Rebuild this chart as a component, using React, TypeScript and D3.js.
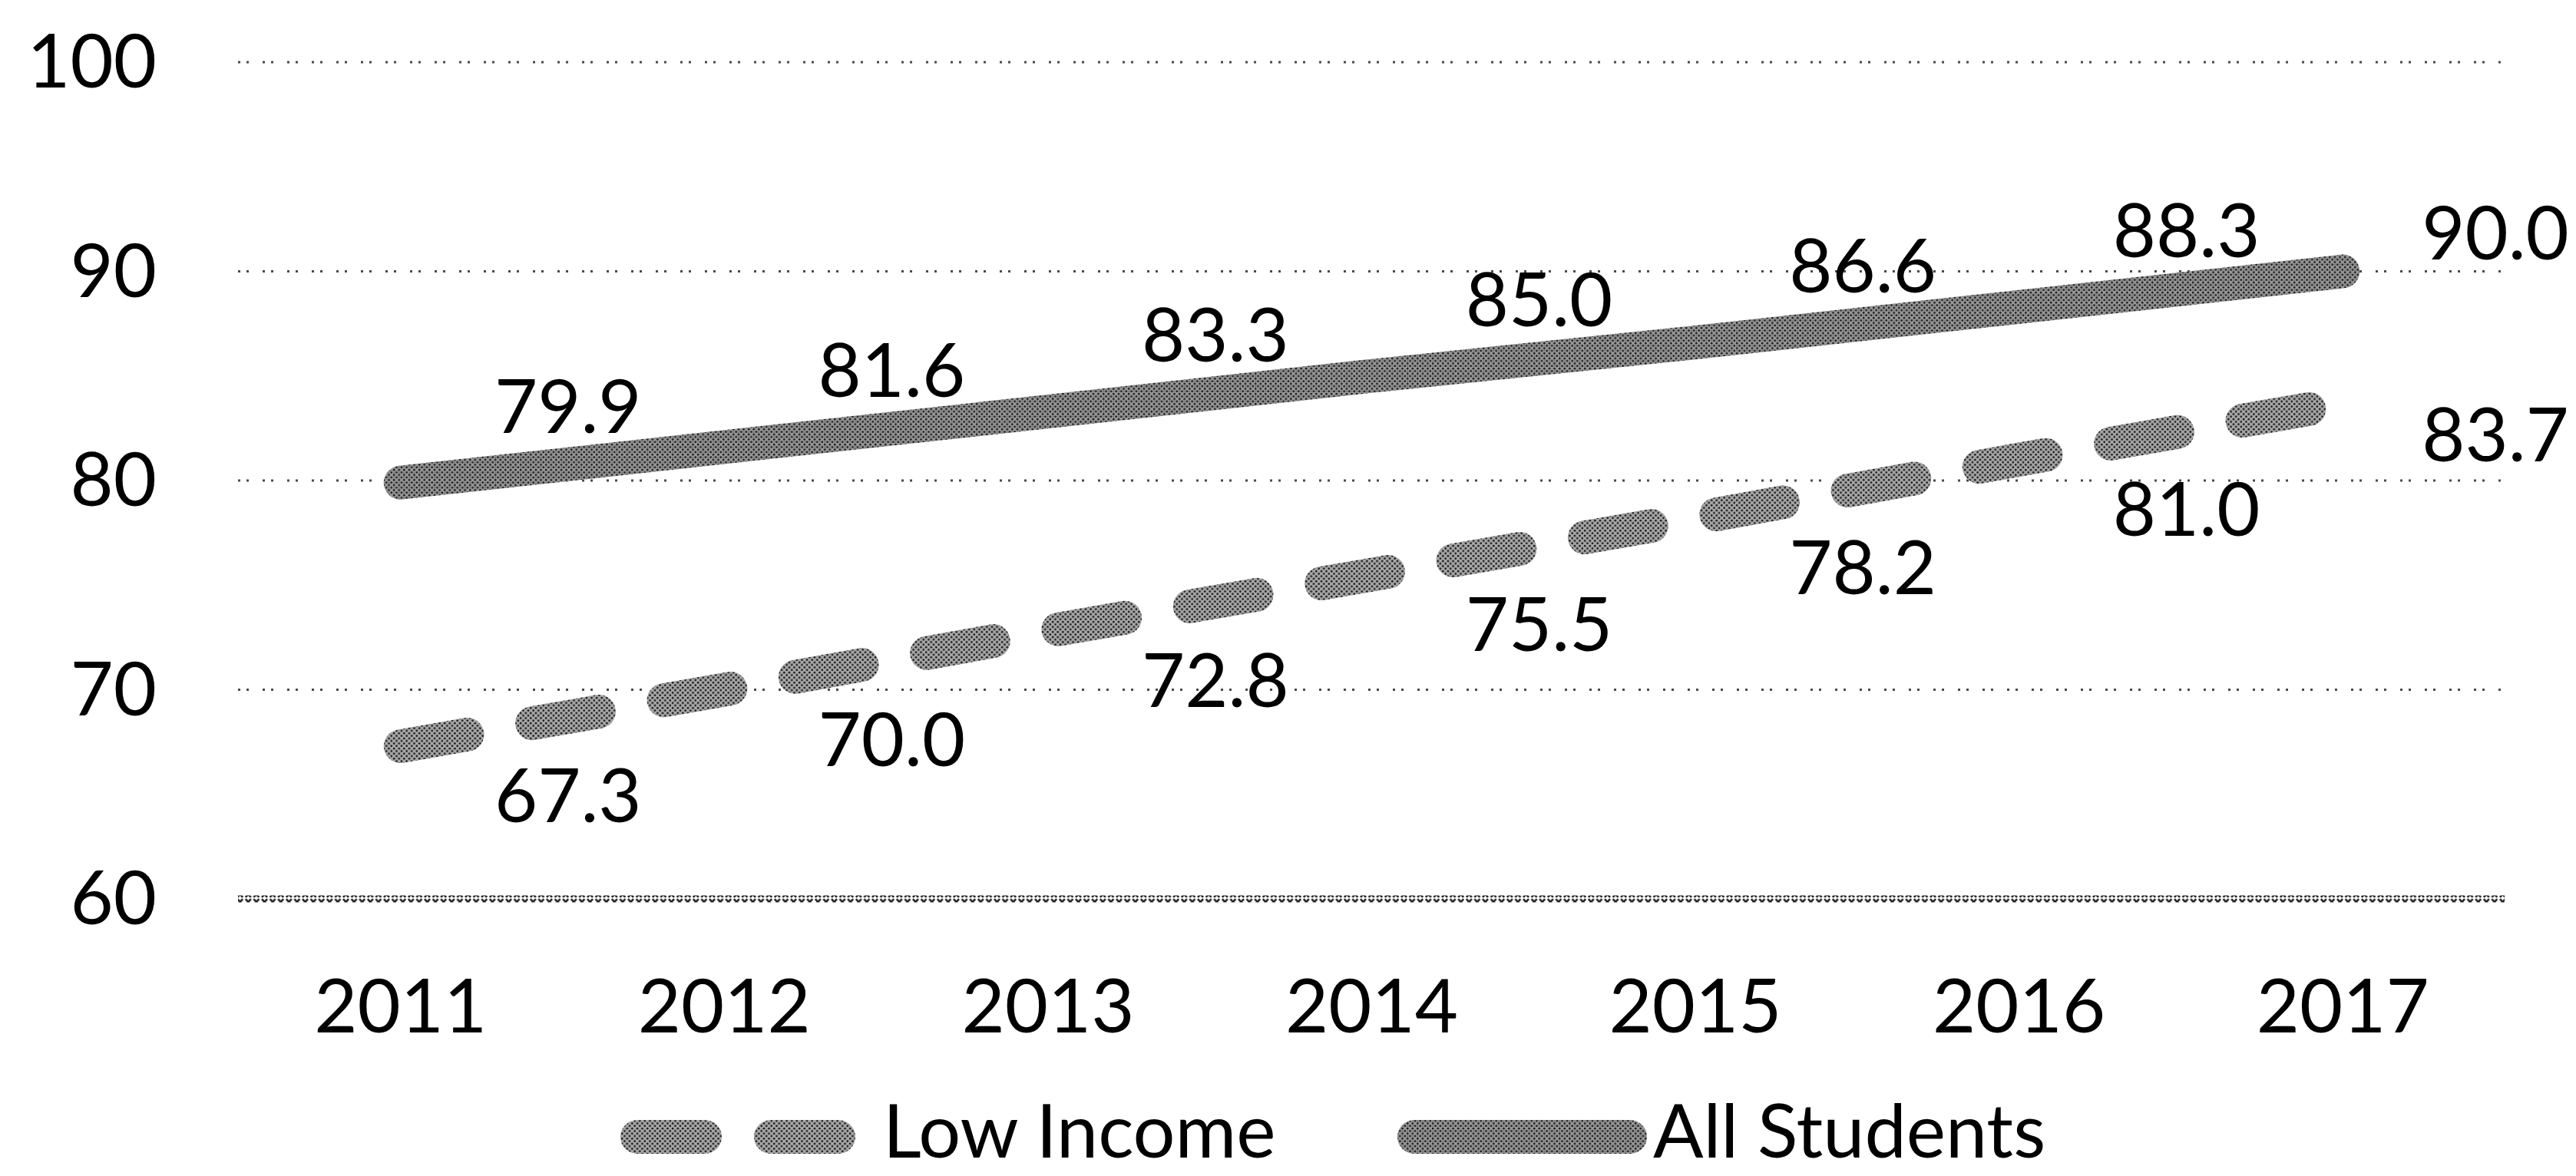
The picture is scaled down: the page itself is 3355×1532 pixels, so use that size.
import React from "react";
import * as d3 from "d3";

const years = ["2011", "2012", "2013", "2014", "2015", "2016", "2017"];
const allStudents = [79.9, 81.6, 83.3, 85.0, 86.6, 88.3, 90.0];
const lowIncome = [67.3, 70.0, 72.8, 75.5, 78.2, 81.0, 83.7];
const yTicks = [60, 70, 80, 90, 100];
const seriesNames = ["Low Income", "All Students"];

const W = 3355;
const H = 1532;
const FONT = "Lato, 'Open Sans', sans-serif";
const FS = 97;

export default function App() {
  const x = d3.scaleBand<string>().domain(years).range([311, 3262]);
  const y = d3.scaleLinear().domain([60, 100]).range([1171, 81]);
  const cx = (d: string) => (x(d) as number) + x.bandwidth() / 2;

  const line = d3
    .line<number>()
    .x((_, i) => cx(years[i]))
    .y((v) => y(v));

  const legendY = 1481;
  const legendBase = 1508;
  const last = years.length - 1;
  const labelX = (i: number) => Math.min(cx(years[i]) + 218, 3250);

  return (
    <svg
      width={W}
      height={H}
      style={{ position: "absolute", left: 0, top: 0, background: "#fff" }}
      fontFamily={FONT}
    >
      <defs>
        <pattern id="tex" width="6.6" height="6.6" patternUnits="userSpaceOnUse">
          <rect width="6.6" height="6.6" fill="#9a9a9a" />
          <circle cx="1.65" cy="1.65" r="1.4" fill="#1c1c1c" />
          <circle cx="4.95" cy="4.95" r="1.4" fill="#1c1c1c" />
          <circle cx="4.95" cy="1.65" r="0.8" fill="#555" />
        </pattern>
        <pattern id="tex2" width="6.6" height="6.6" patternUnits="userSpaceOnUse">
          <rect width="6.6" height="6.6" fill="#a8a8a8" />
          <circle cx="1.65" cy="1.65" r="1.4" fill="#1c1c1c" />
          <circle cx="4.95" cy="4.95" r="1.4" fill="#1c1c1c" />
        </pattern>
        <pattern id="xpat" width="10.6" height="10" patternUnits="userSpaceOnUse">
          <rect width="10.6" height="10" fill="#fff" />
          <path d="M1.8,1.2 L8.8,8.8 M8.8,1.2 L1.8,8.8" stroke="#222" strokeWidth="2.6" />
        </pattern>
      </defs>

      {/* gridlines */}
      {yTicks
        .filter((t) => t !== 60)
        .map((t) => (
          <line
            key={t}
            x1={310}
            x2={3260}
            y1={y(t)}
            y2={y(t)}
            stroke="#4a4a4a"
            strokeWidth={3}
            strokeDasharray="3 8 3 18"
          />
        ))}
      {/* bottom axis */}
      <rect x={310} y={y(60) - 4.5} width={2952} height={9} fill="url(#xpat)" />

      {/* y tick labels */}
      {yTicks.map((t) => (
        <text key={t} x={204} y={y(t) + 33} textAnchor="end" fontSize={FS} fill="#000">
          {t}
        </text>
      ))}

      {/* x tick labels */}
      {years.map((yr) => (
        <text key={yr} x={cx(yr)} y={1345} textAnchor="middle" fontSize={FS} fill="#000">
          {yr}
        </text>
      ))}

      {/* series lines */}
      <path
        d={line(allStudents) as string}
        fill="none"
        stroke="url(#tex)"
        strokeWidth={44}
        strokeLinecap="round"
        strokeLinejoin="round"
      />
      <path
        d={line(lowIncome) as string}
        fill="none"
        stroke="url(#tex2)"
        strokeWidth={44}
        strokeLinecap="round"
        strokeLinejoin="round"
        strokeDasharray="88 86"
      />

      {/* data labels */}
      {allStudents.map((v, i) => (
        <text
          key={"a" + i}
          x={labelX(i)}
          y={y(v) + (i === last ? -51 : -100) + 35}
          textAnchor="middle"
          fontSize={FS}
          fill="#000"
        >
          {v.toFixed(1)}
        </text>
      ))}
      {lowIncome.map((v, i) => (
        <text
          key={"l" + i}
          x={labelX(i)}
          y={y(v) + (i === last ? 41 : 64) + 35}
          textAnchor="middle"
          fontSize={FS}
          fill="#000"
        >
          {v.toFixed(1)}
        </text>
      ))}

      {/* legend */}
      <line
        x1={830}
        x2={1097}
        y1={legendY}
        y2={legendY}
        stroke="url(#tex2)"
        strokeWidth={44}
        strokeLinecap="round"
        strokeDasharray="88 86"
      />
      <text x={1150} y={legendBase} fontSize={FS} fill="#000">
        {seriesNames[0]}
      </text>
      <line
        x1={1842}
        x2={2123}
        y1={legendY}
        y2={legendY}
        stroke="url(#tex)"
        strokeWidth={44}
        strokeLinecap="round"
      />
      <text x={2153} y={legendBase} fontSize={FS} fill="#000">
        {seriesNames[1]}
      </text>
    </svg>
  );
}
